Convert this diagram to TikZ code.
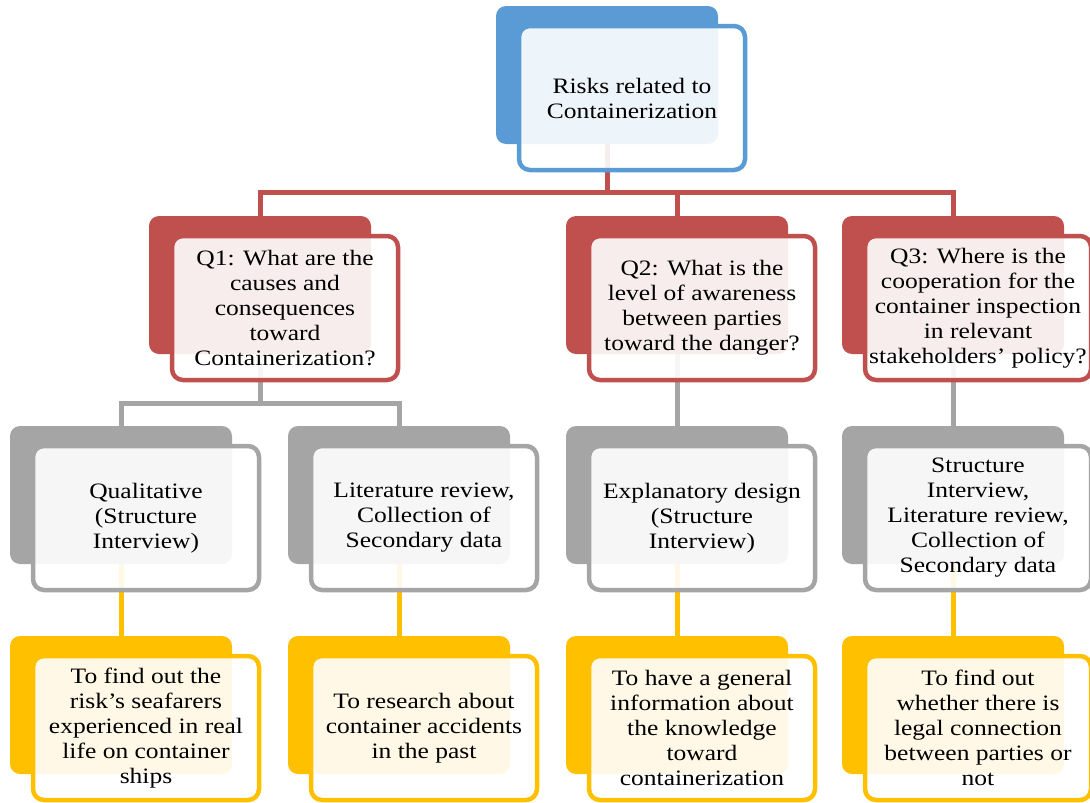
\documentclass[tikz,border=0pt]{standalone}
\usepackage{fontspec}
\setmainfont[FakeStretch=1.16]{Liberation Serif}
\usetikzlibrary{calc,backgrounds}
\definecolor{cblue}{HTML}{5B9BD5}
\definecolor{cred}{HTML}{C0504D}
\definecolor{cgray}{HTML}{A5A5A5}
\definecolor{cyel}{HTML}{FFC000}
\tikzset{
  backbox/.style={fill=#1, draw=none, rounded corners=10pt, minimum width=222pt, minimum height=138pt, inner sep=0pt},
  frontbox/.style={draw=#1, line width=4.5pt, fill=white, fill opacity=0.9, text opacity=1, rounded corners=11pt, minimum width=226pt, minimum height=144pt, inner sep=0pt, align=center, font=\fontsize{22}{25}\selectfont},
  conn/.style={draw=#1, line width=5pt},
}
\begin{document}
\begin{tikzpicture}[x=1pt,y=-1pt]
\useasboundingbox (0,0) rectangle (1090,803);
% back boxes
\node[backbox=cblue] (tb) at (607,75) {};
\node[backbox=cred] (q1b) at (260,285) {};
\node[backbox=cred] (q2b) at (677,285) {};
\node[backbox=cred] (q3b) at (953,285) {};
\node[backbox=cgray] (m1b) at (121,495) {};
\node[backbox=cgray] (m2b) at (399,495) {};
\node[backbox=cgray] (m3b) at (677,495) {};
\node[backbox=cgray] (m4b) at (953,495) {};
\node[backbox=cyel] (o1b) at (121,705) {};
\node[backbox=cyel] (o2b) at (399,705) {};
\node[backbox=cyel] (o3b) at (677,705) {};
\node[backbox=cyel] (o4b) at (953,705) {};
% front boxes
\node[frontbox=cblue] (tf) at ($(tb)+(25,23)$) {Risks related to\\Containerization};
\node[frontbox=cred] (q1f) at ($(q1b)+(25,23)$) {Q1: What are the\\causes and\\consequences\\toward\\Containerization?};
\node[frontbox=cred] (q2f) at ($(q2b)+(25,23)$) {Q2: What is the\\level of awareness\\between parties\\toward the danger?};
\node[frontbox=cred] (q3f) at ($(q3b)+(25,23)$) {Q3: Where is the\\cooperation for the\\container inspection\\in relevant\\stakeholders’ policy?};
\node[frontbox=cgray] (m1f) at ($(m1b)+(25,23)$) {Qualitative\\(Structure\\Interview)};
\node[frontbox=cgray] (m2f) at ($(m2b)+(25,23)$) {Literature review,\\Collection of\\Secondary data};
\node[frontbox=cgray] (m3f) at ($(m3b)+(25,23)$) {Explanatory design\\(Structure\\Interview)};
\node[frontbox=cgray] (m4f) at ($(m4b)+(25,23)$) {Structure\\Interview,\\Literature review,\\Collection of\\Secondary data};
\node[frontbox=cyel] (o1f) at ($(o1b)+(25,23)$) {To find out the\\risk’s seafarers\\experienced in real\\life on container\\ships};
\node[frontbox=cyel] (o2f) at ($(o2b)+(25,23)$) {To research about\\container accidents\\in the past};
\node[frontbox=cyel] (o3f) at ($(o3b)+(25,23)$) {To have a general\\information about\\the knowledge\\toward\\containerization};
\node[frontbox=cyel] (o4f) at ($(o4b)+(25,23)$) {To find out\\whether there is\\legal connection\\between parties or\\not};
% connectors
\begin{pgfonlayer}{background}
\coordinate (rh) at ($(tb.south)+(0,48)$);
\draw[conn=cred] (tb.south) -- (rh);
\draw[conn=cred] (q1b.north) |- (rh) -| (q3b.north);
\draw[conn=cred] (q2b.north) -- (q2b.north |- rh);
\coordinate (gh) at ($(q1b.south)+(0,49)$);
\draw[conn=cgray] (q1b.south) -- (gh);
\draw[conn=cgray] (m1b.north) |- (gh) -| (m2b.north);
\draw[conn=cgray] (q2b.south) -- (m3b.north);
\draw[conn=cgray] (q3b.south) -- (m4b.north);
\draw[conn=cyel] (m1b.south) -- (o1b.north);
\draw[conn=cyel] (m2b.south) -- (o2b.north);
\draw[conn=cyel] (m3b.south) -- (o3b.north);
\draw[conn=cyel] (m4b.south) -- (o4b.north);
\end{pgfonlayer}
\end{tikzpicture}
\end{document}
